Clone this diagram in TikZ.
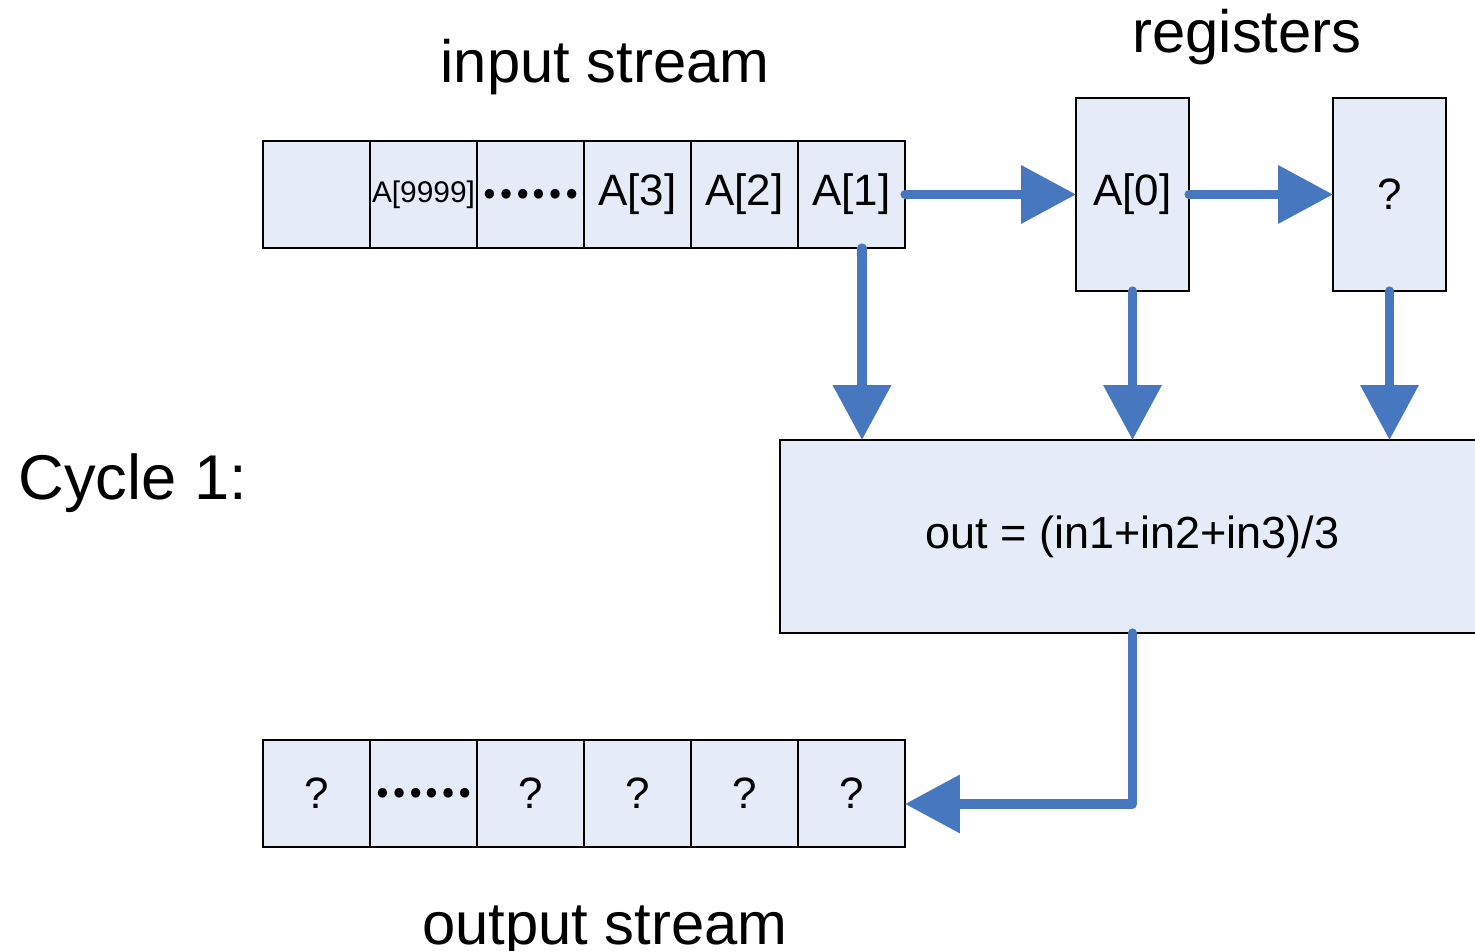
\documentclass[tikz,border=0pt]{standalone}
\usepackage{fontspec}
\setmainfont{Liberation Sans}
\newfontfamily\cjk{Noto Sans CJK SC}
\usetikzlibrary{arrows.meta}
\definecolor{cellfill}{HTML}{E6ECF7}
\definecolor{flowblue}{HTML}{4677BF}

\begin{document}
\begin{tikzpicture}[
		cell/.style={draw, fill=cellfill, line width=0.6pt, minimum width=1.07cm, minimum height=1.07cm, inner sep=0pt, outer sep=0pt, font=\fontsize{12.5}{15}\selectfont},
		reg/.style={cell, minimum width=1.13cm, minimum height=1.93cm},
		flow/.style={draw=flowblue, line width=2.6pt, line cap=round, line join=round, -{Triangle[length=15.6pt, width=16pt]}},
		title/.style={anchor=base, font=\fontsize{17}{20}\selectfont}
	]
		\useasboundingbox (0,0) rectangle (14.75,9.51);

		\node[title] (intitle) at (6.05,8.68) {input stream};
		\node[title] (regtitle) at (12.47,8.98) {registers};
		\node[title, anchor=base west, font=\fontsize{18}{20}\selectfont] (cycle) at (0.06,4.51) {Cycle 1:};
		\node[title] (outtitle) at (6.05,0.06) {output stream};

		\node[cell] (in6) at (3.165,7.565) {};
		\node[cell] (in5) at (4.235,7.565) {\fontsize{8.5}{10}\selectfont A[9999]};
		\node[cell] (in4) at (5.305,7.565) {\cjk\bfseries ……};
		\node[cell] (in3) at (6.375,7.565) {A[3]};
		\node[cell] (in2) at (7.445,7.565) {A[2]};
		\node[cell] (in1) at (8.515,7.565) {A[1]};

		\node[reg] (reg0) at (11.325,7.565) {A[0]};
		\node[reg] (reg1) at (13.895,7.565) {?};

		\node[cell, minimum width=7.05cm, minimum height=1.93cm, font=\fontsize{12.8}{15}\selectfont] (func) at (11.325,4.145) {out = (in1+in2+in3)/3};

		\node[cell] (out6) at (3.165,1.575) {?};
		\node[cell] (out5) at (4.235,1.575) {\cjk\bfseries ……};
		\node[cell] (out4) at (5.305,1.575) {?};
		\node[cell] (out3) at (6.375,1.575) {?};
		\node[cell] (out2) at (7.445,1.575) {?};
		\node[cell] (out1) at (8.515,1.575) {?};

		\draw[flow] (in1.east) -- (reg0.west);
		\draw[flow] (reg0.east) -- (reg1.west);
		\draw[flow] ([xshift=0.105cm]in1.south) -- ([xshift=0.105cm]in1.south |- func.north);
		\draw[flow] (reg0.south) -- (reg0.south |- func.north);
		\draw[flow] (reg1.south) -- (reg1.south |- func.north);
		\draw[flow] (func.south) |- ([yshift=-0.105cm]out1.east);
	\end{tikzpicture}
\end{document}
